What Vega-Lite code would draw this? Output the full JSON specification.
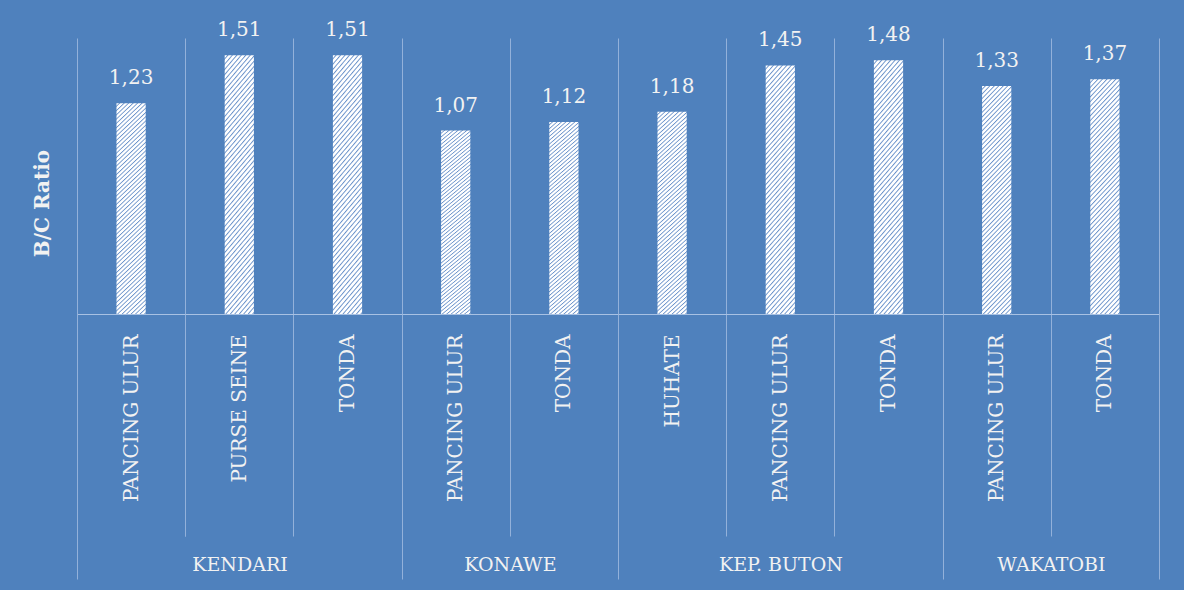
{
  "$schema": "https://vega.github.io/schema/vega-lite/v6.json",
  "width": 1082,
  "height": 276,
  "autosize": {"type": "none"},
  "padding": {"left": 77, "top": 38, "right": 25, "bottom": 276},
  "background": "#4f81bd",
  "config": {
    "view": {"stroke": null},
    "font": "DejaVu Serif",
    "locale": {"number": {"decimal": ",", "thousands": ".", "grouping": [3], "currency": ["", ""]}}
  },
  "data": {
    "values": [
      {"key": "KENDARI|PANCING ULUR", "region": "KENDARI", "gear": "PANCING ULUR", "value": 1.23},
      {"key": "KENDARI|PURSE SEINE", "region": "KENDARI", "gear": "PURSE SEINE", "value": 1.51},
      {"key": "KENDARI|TONDA", "region": "KENDARI", "gear": "TONDA", "value": 1.51},
      {"key": "KONAWE|PANCING ULUR", "region": "KONAWE", "gear": "PANCING ULUR", "value": 1.07},
      {"key": "KONAWE|TONDA", "region": "KONAWE", "gear": "TONDA", "value": 1.12},
      {"key": "KEP. BUTON|HUHATE", "region": "KEP. BUTON", "gear": "HUHATE", "value": 1.18},
      {"key": "KEP. BUTON|PANCING ULUR", "region": "KEP. BUTON", "gear": "PANCING ULUR", "value": 1.45},
      {"key": "KEP. BUTON|TONDA", "region": "KEP. BUTON", "gear": "TONDA", "value": 1.48},
      {"key": "WAKATOBI|PANCING ULUR", "region": "WAKATOBI", "gear": "PANCING ULUR", "value": 1.33},
      {"key": "WAKATOBI|TONDA", "region": "WAKATOBI", "gear": "TONDA", "value": 1.37}
    ]
  },
  "layer": [
    {
      "mark": {
        "type": "bar",
        "width": {"band": 0.27},
        "fill": {
          "gradient": "linear", "x1": 0, "y1": 0, "x2": 0.147, "y2": 1.113,
          "stops": [
            {"offset": 0, "color": "#ffffff"}, {"offset": 0.008, "color": "#ffffff"}, {"offset": 0.0125, "color": "#6a92ca"},
            {"offset": 0.0179, "color": "#ffffff"}, {"offset": 0.0259, "color": "#ffffff"}, {"offset": 0.0304, "color": "#6a92ca"},
            {"offset": 0.0357, "color": "#ffffff"}, {"offset": 0.0438, "color": "#ffffff"}, {"offset": 0.0482, "color": "#6a92ca"},
            {"offset": 0.0536, "color": "#ffffff"}, {"offset": 0.0616, "color": "#ffffff"}, {"offset": 0.0661, "color": "#6a92ca"},
            {"offset": 0.0714, "color": "#ffffff"}, {"offset": 0.0795, "color": "#ffffff"}, {"offset": 0.0839, "color": "#6a92ca"},
            {"offset": 0.0893, "color": "#ffffff"}, {"offset": 0.0973, "color": "#ffffff"}, {"offset": 0.1018, "color": "#6a92ca"},
            {"offset": 0.1071, "color": "#ffffff"}, {"offset": 0.1152, "color": "#ffffff"}, {"offset": 0.1196, "color": "#6a92ca"},
            {"offset": 0.125, "color": "#ffffff"}, {"offset": 0.133, "color": "#ffffff"}, {"offset": 0.1375, "color": "#6a92ca"},
            {"offset": 0.1429, "color": "#ffffff"}, {"offset": 0.1509, "color": "#ffffff"}, {"offset": 0.1554, "color": "#6a92ca"},
            {"offset": 0.1607, "color": "#ffffff"}, {"offset": 0.1688, "color": "#ffffff"}, {"offset": 0.1732, "color": "#6a92ca"},
            {"offset": 0.1786, "color": "#ffffff"}, {"offset": 0.1866, "color": "#ffffff"}, {"offset": 0.1911, "color": "#6a92ca"},
            {"offset": 0.1964, "color": "#ffffff"}, {"offset": 0.2045, "color": "#ffffff"}, {"offset": 0.2089, "color": "#6a92ca"},
            {"offset": 0.2143, "color": "#ffffff"}, {"offset": 0.2223, "color": "#ffffff"}, {"offset": 0.2268, "color": "#6a92ca"},
            {"offset": 0.2321, "color": "#ffffff"}, {"offset": 0.2402, "color": "#ffffff"}, {"offset": 0.2446, "color": "#6a92ca"},
            {"offset": 0.25, "color": "#ffffff"}, {"offset": 0.258, "color": "#ffffff"}, {"offset": 0.2625, "color": "#6a92ca"},
            {"offset": 0.2679, "color": "#ffffff"}, {"offset": 0.2759, "color": "#ffffff"}, {"offset": 0.2804, "color": "#6a92ca"},
            {"offset": 0.2857, "color": "#ffffff"}, {"offset": 0.2938, "color": "#ffffff"}, {"offset": 0.2982, "color": "#6a92ca"},
            {"offset": 0.3036, "color": "#ffffff"}, {"offset": 0.3116, "color": "#ffffff"}, {"offset": 0.3161, "color": "#6a92ca"},
            {"offset": 0.3214, "color": "#ffffff"}, {"offset": 0.3295, "color": "#ffffff"}, {"offset": 0.3339, "color": "#6a92ca"},
            {"offset": 0.3393, "color": "#ffffff"}, {"offset": 0.3473, "color": "#ffffff"}, {"offset": 0.3518, "color": "#6a92ca"},
            {"offset": 0.3571, "color": "#ffffff"}, {"offset": 0.3652, "color": "#ffffff"}, {"offset": 0.3696, "color": "#6a92ca"},
            {"offset": 0.375, "color": "#ffffff"}, {"offset": 0.383, "color": "#ffffff"}, {"offset": 0.3875, "color": "#6a92ca"},
            {"offset": 0.3929, "color": "#ffffff"}, {"offset": 0.4009, "color": "#ffffff"}, {"offset": 0.4054, "color": "#6a92ca"},
            {"offset": 0.4107, "color": "#ffffff"}, {"offset": 0.4188, "color": "#ffffff"}, {"offset": 0.4232, "color": "#6a92ca"},
            {"offset": 0.4286, "color": "#ffffff"}, {"offset": 0.4366, "color": "#ffffff"}, {"offset": 0.4411, "color": "#6a92ca"},
            {"offset": 0.4464, "color": "#ffffff"}, {"offset": 0.4545, "color": "#ffffff"}, {"offset": 0.4589, "color": "#6a92ca"},
            {"offset": 0.4643, "color": "#ffffff"}, {"offset": 0.4723, "color": "#ffffff"}, {"offset": 0.4768, "color": "#6a92ca"},
            {"offset": 0.4821, "color": "#ffffff"}, {"offset": 0.4902, "color": "#ffffff"}, {"offset": 0.4946, "color": "#6a92ca"},
            {"offset": 0.5, "color": "#ffffff"}, {"offset": 0.508, "color": "#ffffff"}, {"offset": 0.5125, "color": "#6a92ca"},
            {"offset": 0.5179, "color": "#ffffff"}, {"offset": 0.5259, "color": "#ffffff"}, {"offset": 0.5304, "color": "#6a92ca"},
            {"offset": 0.5357, "color": "#ffffff"}, {"offset": 0.5438, "color": "#ffffff"}, {"offset": 0.5482, "color": "#6a92ca"},
            {"offset": 0.5536, "color": "#ffffff"}, {"offset": 0.5616, "color": "#ffffff"}, {"offset": 0.5661, "color": "#6a92ca"},
            {"offset": 0.5714, "color": "#ffffff"}, {"offset": 0.5795, "color": "#ffffff"}, {"offset": 0.5839, "color": "#6a92ca"},
            {"offset": 0.5893, "color": "#ffffff"}, {"offset": 0.5973, "color": "#ffffff"}, {"offset": 0.6018, "color": "#6a92ca"},
            {"offset": 0.6071, "color": "#ffffff"}, {"offset": 0.6152, "color": "#ffffff"}, {"offset": 0.6196, "color": "#6a92ca"},
            {"offset": 0.625, "color": "#ffffff"}, {"offset": 0.633, "color": "#ffffff"}, {"offset": 0.6375, "color": "#6a92ca"},
            {"offset": 0.6429, "color": "#ffffff"}, {"offset": 0.6509, "color": "#ffffff"}, {"offset": 0.6554, "color": "#6a92ca"},
            {"offset": 0.6607, "color": "#ffffff"}, {"offset": 0.6688, "color": "#ffffff"}, {"offset": 0.6732, "color": "#6a92ca"},
            {"offset": 0.6786, "color": "#ffffff"}, {"offset": 0.6866, "color": "#ffffff"}, {"offset": 0.6911, "color": "#6a92ca"},
            {"offset": 0.6964, "color": "#ffffff"}, {"offset": 0.7045, "color": "#ffffff"}, {"offset": 0.7089, "color": "#6a92ca"},
            {"offset": 0.7143, "color": "#ffffff"}, {"offset": 0.7223, "color": "#ffffff"}, {"offset": 0.7268, "color": "#6a92ca"},
            {"offset": 0.7321, "color": "#ffffff"}, {"offset": 0.7402, "color": "#ffffff"}, {"offset": 0.7446, "color": "#6a92ca"},
            {"offset": 0.75, "color": "#ffffff"}, {"offset": 0.758, "color": "#ffffff"}, {"offset": 0.7625, "color": "#6a92ca"},
            {"offset": 0.7679, "color": "#ffffff"}, {"offset": 0.7759, "color": "#ffffff"}, {"offset": 0.7804, "color": "#6a92ca"},
            {"offset": 0.7857, "color": "#ffffff"}, {"offset": 0.7938, "color": "#ffffff"}, {"offset": 0.7982, "color": "#6a92ca"},
            {"offset": 0.8036, "color": "#ffffff"}, {"offset": 0.8116, "color": "#ffffff"}, {"offset": 0.8161, "color": "#6a92ca"},
            {"offset": 0.8214, "color": "#ffffff"}, {"offset": 0.8295, "color": "#ffffff"}, {"offset": 0.8339, "color": "#6a92ca"},
            {"offset": 0.8393, "color": "#ffffff"}, {"offset": 0.8473, "color": "#ffffff"}, {"offset": 0.8518, "color": "#6a92ca"},
            {"offset": 0.8571, "color": "#ffffff"}, {"offset": 0.8652, "color": "#ffffff"}, {"offset": 0.8696, "color": "#6a92ca"},
            {"offset": 0.875, "color": "#ffffff"}, {"offset": 0.883, "color": "#ffffff"}, {"offset": 0.8875, "color": "#6a92ca"},
            {"offset": 0.8929, "color": "#ffffff"}, {"offset": 0.9009, "color": "#ffffff"}, {"offset": 0.9054, "color": "#6a92ca"},
            {"offset": 0.9107, "color": "#ffffff"}, {"offset": 0.9188, "color": "#ffffff"}, {"offset": 0.9232, "color": "#6a92ca"},
            {"offset": 0.9286, "color": "#ffffff"}, {"offset": 0.9366, "color": "#ffffff"}, {"offset": 0.9411, "color": "#6a92ca"},
            {"offset": 0.9464, "color": "#ffffff"}, {"offset": 0.9545, "color": "#ffffff"}, {"offset": 0.9589, "color": "#6a92ca"},
            {"offset": 0.9643, "color": "#ffffff"}, {"offset": 0.9723, "color": "#ffffff"}, {"offset": 0.9768, "color": "#6a92ca"},
            {"offset": 0.9821, "color": "#ffffff"}, {"offset": 0.9902, "color": "#ffffff"}, {"offset": 0.9946, "color": "#6a92ca"},
            {"offset": 1, "color": "#ffffff"}
          ]
        }
      },
      "encoding": {
        "x": {
          "field": "key", "type": "nominal", "sort": null,
          "scale": {"paddingInner": 0, "paddingOuter": 0},
          "axis": {
            "title": null,
            "labelExpr": "datum.value ? split(datum.value, '|')[1] : ''",
            "labelAngle": -90,
            "labelAlign": "right",
            "labelBaseline": "middle",
            "labelFont": "DejaVu Serif",
            "labelFontSize": 20,
            "labelColor": "#f2f2f2",
            "labelPadding": -202,
            "labelOverlap": false,
            "labelBound": false,
            "labelFlush": false,
            "ticks": true,
            "tickBand": "extent",
            "tickSize": 222,
            "tickColor": "#93b1da",
            "tickWidth": 1,
            "grid": true,
            "gridColor": "#93b1da",
            "gridWidth": 1,
            "domain": true,
            "domainColor": "#a8c1e3",
            "domainWidth": 1
          }
        },
        "y": {
          "field": "value", "type": "quantitative",
          "scale": {"domain": [0, 1.61], "nice": false, "zero": true},
          "axis": {
            "title": "B/C Ratio",
            "labels": false, "ticks": false, "domain": false, "grid": false,
            "titleFont": "DejaVu Serif", "titleFontWeight": "bold", "titleFontSize": 20,
            "titleColor": "#f2f2f2", "titleAngle": 270, "titleX": -35, "titleY": 165,
            "titleAlign": "center", "titleBaseline": "middle"
          }
        }
      }
    },
    {
      "mark": {"type": "text", "baseline": "alphabetic", "dy": -19, "fontSize": 20, "color": "#f2f2f2", "font": "DejaVu Serif"},
      "encoding": {
        "x": {
          "field": "key", "type": "nominal", "sort": null,
          "axis": {
            "title": null,
            "orient": "bottom",
            "values": ["KENDARI|PANCING ULUR", "KENDARI|TONDA", "KONAWE|TONDA", "KEP. BUTON|TONDA", "WAKATOBI|TONDA"],
            "labelExpr": "datum.value && indexof(datum.value, 'TONDA') >= 0 ? split(datum.value, '|')[0] : ''",
            "labelAngle": 0,
            "labelAlign": "center",
            "labelBaseline": "middle",
            "labelFont": "DejaVu Serif",
            "labelFontSize": 19,
            "labelColor": "#f2f2f2",
            "labelOffset": {"expr": "datum.value && (indexof(datum.value, 'KONAWE') >= 0 || indexof(datum.value, 'WAKATOBI') >= 0) ? -54 : -108"},
            "labelPadding": -15,
            "labelOverlap": false,
            "labelBound": false,
            "labelFlush": false,
            "ticks": true,
            "tickBand": "extent",
            "tickSize": {"expr": "datum.value === 'KENDARI|PANCING ULUR' ? 222 : 265"},
            "tickColor": "#93b1da",
            "tickWidth": 1,
            "domain": false,
            "grid": false
          }
        },
        "y": {"field": "value", "type": "quantitative"},
        "text": {"field": "value", "type": "quantitative", "format": ".2f"}
      }
    }
  ],
  "resolve": {"axis": {"x": "independent"}}
}
